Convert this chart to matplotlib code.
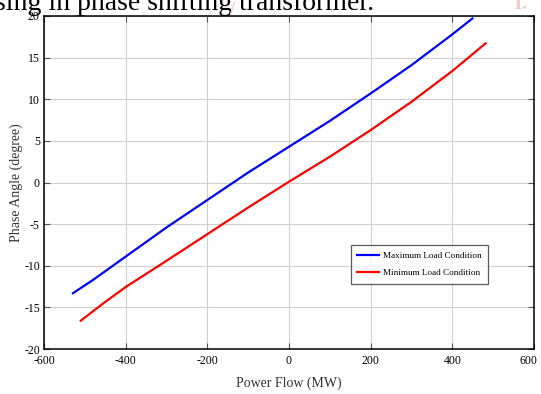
import matplotlib
matplotlib.use("Agg")
import matplotlib.pyplot as plt
import matplotlib.transforms as mtransforms
import numpy as np

max_x = [-529, -480, -400, -300, -200, -100, 0, 100, 200, 300, 400, 449]
max_y = [-13.3, -11.7, -8.9, -5.4, -2.1, 1.2, 4.3, 7.4, 10.7, 14.1, 17.8, 19.7]
min_x = [-510, -460, -400, -300, -200, -100, 0, 100, 200, 300, 400, 481]
min_y = [-16.6, -14.7, -12.55, -9.4, -6.2, -3.0, 0.1, 3.1, 6.3, 9.7, 13.4, 16.7]
xticks = [-600, -400, -200, 0, 200, 400, 600]
yticks = [-20, -15, -10, -5, 0, 5, 10, 15, 20]

plt.rcParams['font.family'] = ['Liberation Serif', 'DejaVu Serif']

fig = plt.figure(figsize=(5.41, 3.94), dpi=100)
ax = fig.add_axes([44/541, 1-349/394, 490/541, 333/394])

ax.plot(max_x, max_y, color='#0000ff', lw=1.6, label='Maximum Load Condition')
ax.plot(min_x, min_y, color='#ff0000', lw=1.6, label='Minimum Load Condition')

ax.set_xlim(-600, 600)
ax.set_ylim(-20, 20)
ax.set_xticks(xticks)
ax.set_yticks(yticks)
ax.set_xticklabels([str(v) for v in xticks])
ax.set_yticklabels([str(v) for v in yticks])
ax.grid(True, color='#d0d0d0', lw=0.8)
ax.tick_params(direction='in', length=4, width=0.8, color='#555555', top=True, right=True,
               labelsize=8.5, pad=4)
ax.tick_params(axis='y', pad=3)
for s in ax.spines.values():
    s.set_linewidth(1.1)
    s.set_color('black')

# keep the last x tick label inside the canvas
last = ax.get_xticklabels()[-1]
last.set_transform(last.get_transform() + mtransforms.ScaledTranslation(-6/100, 0, fig.dpi_scale_trans))

ax.set_xlabel('Power Flow (MW)', fontsize=10, color='#333333')
ax.set_ylabel('Phase Angle (degree)', fontsize=10, color='#333333')
ax.xaxis.set_label_coords(0.5, -0.082)
ax.yaxis.set_label_coords(-0.042, 0.5)

leg = ax.legend(loc='upper left', bbox_to_anchor=((351-44)/490, (349-245)/333),
                fontsize=6.6, frameon=True, fancybox=False, edgecolor='#333333',
                handlelength=2.4, borderpad=0.7, labelspacing=1.0, handletextpad=0.4,
                borderaxespad=0)
leg.get_frame().set_linewidth(0.9)

fig.text(-0.01, 1-10/394, 'sing in phase shifting transformer.', fontsize=20,
         va='baseline', ha='left', color='black')
fig.text(229/541, 1-14/394, '/', fontsize=14, color='#f3cdc8', va='baseline', ha='left',
         fontweight='bold')
fig.text(513/541, 1-9/394, 'I.', fontsize=16, color='#f3cdc8', va='baseline', ha='left',
         fontweight='bold')

fig.savefig('out.png', dpi=100)
